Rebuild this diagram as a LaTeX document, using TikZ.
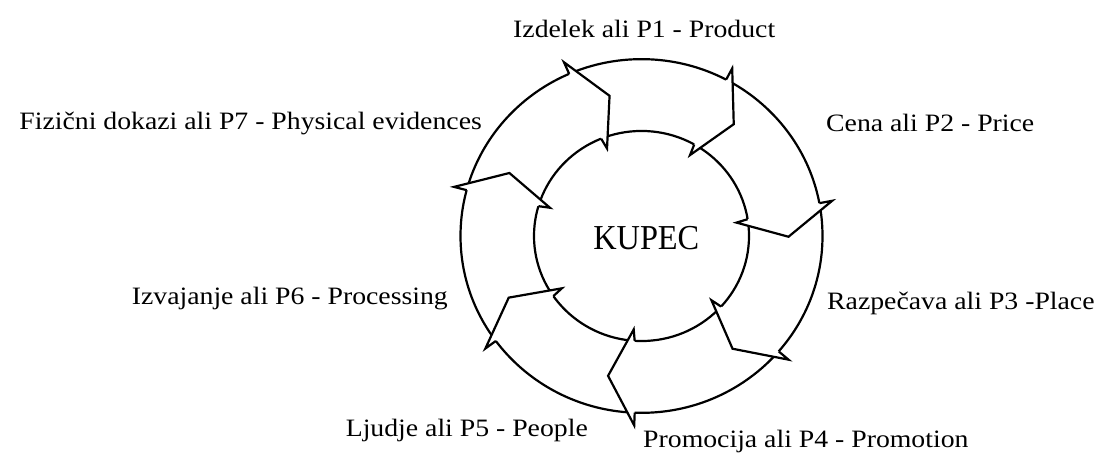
\documentclass[tikz,border=0pt]{standalone}
\usepackage{fontspec}
\setmainfont{Liberation Serif}[FakeStretch=1.11]
\usepackage{graphicx}
\begin{document}
\begin{tikzpicture}[x=1pt,y=1pt,
  ring/.style={line width=2.2pt, line join=miter},
  lbl/.style={inner sep=0pt, font=\fontsize{25}{30}\selectfont}]
\useasboundingbox (0,0) rectangle (1099,454);
\fill[white] (0,0) rectangle (1099,454);
\begin{scope}[shift={(641.5,218)}, yscale=0.977]
  \draw[ring] (0,0) circle[radius=181];
  \draw[ring] (0,0) circle[radius=107.5];
  \foreach \k in {0,...,6}{
    \pgfmathsetmacro{\p}{\k*360/7-0.3}
    \fill[white] (\p+11:181) -- (\p+11:194) -- (\p:147) -- (\p+8.5:96) -- (\p+9.5:107.5) -- cycle;
    \draw[ring] (\p+11:181) -- (\p+11:194) -- (\p:147) -- (\p+8.5:96) -- (\p+9.5:107.5);
  }
\end{scope}
\node[lbl, anchor=base west] (p1) at (513,416) {Izdelek ali P1 - Product};
\node[lbl, anchor=base west] (p2) at (826,322) {Cena ali P2 - Price};
\node[lbl, anchor=base west] (p3) at (827,144) {Razpečava ali P3 -Place};
\node[lbl, anchor=base west] (p4) at (643,6) {Promocija ali P4 - Promotion};
\node[lbl, anchor=base east] (p5) at (588,17) {Ljudje ali P5 - People};
\node[lbl, anchor=base east] (p6) at (448,149) {Izvajanje ali P6 - Processing};
\node[lbl, anchor=base east] (p7) at (482,324) {Fizični dokazi ali P7 - Physical evidences};
\node[inner sep=0pt, anchor=base] (kupec) at (646.3,204) {\resizebox{106pt}{\height}{\fontsize{35}{40}\selectfont KUPEC}};
\end{tikzpicture}
\end{document}
